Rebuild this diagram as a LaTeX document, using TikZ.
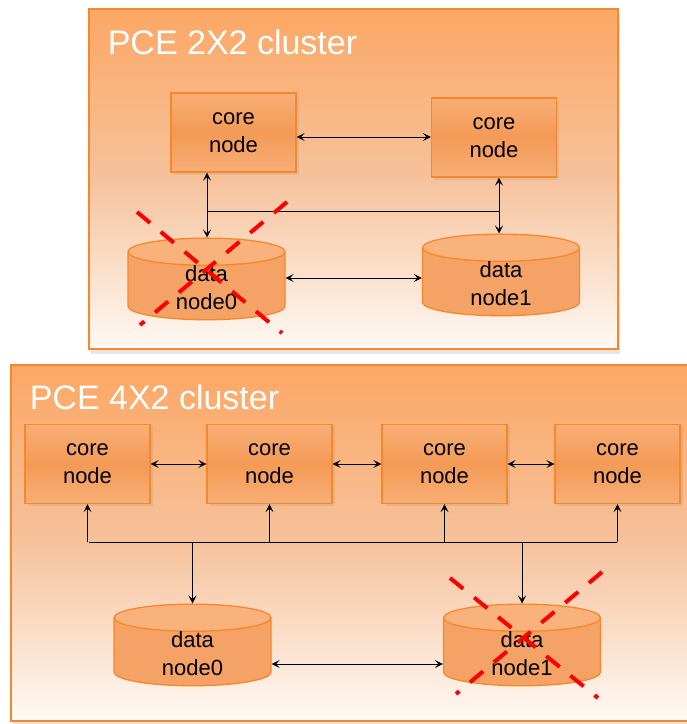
\documentclass[tikz,border=0pt]{standalone}
\usepackage{fontspec}
\setmainfont{Liberation Sans}
\usetikzlibrary{arrows.meta}
\usetikzlibrary{positioning}
\usetikzlibrary{calc}
\usetikzlibrary{shapes.geometric}
\usetikzlibrary{shadows}
\definecolor{clustertop}{HTML}{FCA764}
\definecolor{clustermid}{HTML}{F6C29C}
\definecolor{clusterbot}{HTML}{FEF9F4}
\definecolor{boxline}{HTML}{F8872A}
\definecolor{corefill}{HTML}{F39A56}
\definecolor{coreedge}{HTML}{F8AE76}
\definecolor{databody}{HTML}{F4A266}
\definecolor{dataend}{HTML}{F9B27C}
\tikzstyle{cluster}=[draw=boxline, line width=1.5pt, top color=clustertop, bottom color=clusterbot, middle color=clustermid, drop shadow={opacity=0.2, shadow xshift=2pt, shadow yshift=-5pt}]
\tikzstyle{title}=[text=white, font={\fontsize{34}{40}\selectfont}, anchor=west]
\tikzstyle{core}=[draw=boxline, line width=1.3pt, minimum width=125pt, minimum height=79pt, top color=coreedge, bottom color=coreedge, middle color=corefill, align=center, font={\fontsize{22}{28}\selectfont}, drop shadow={opacity=0.15}]
\tikzstyle{data}=[cylinder, shape border rotate=90, aspect=0.4, draw=boxline, line width=1.3pt, cylinder uses custom fill, cylinder body fill=databody, cylinder end fill=dataend, minimum width=157pt, minimum height=62pt, inner ysep=0pt, align=center, font={\fontsize{22}{28}\selectfont}]
\tikzstyle{cross}=[red, line width=4pt, dash pattern=on 17pt off 14pt]

\begin{document}
\begin{tikzpicture}[x=1pt,y=-1pt,>={Stealth[length=8pt,width=8pt,inset=3.5pt]},line width=0.9pt]
  \useasboundingbox (0,0) rectangle (687,724);
  \clip (0,0) rectangle (687,724);

    % 2x2 cluster
    \node [cluster, minimum width=529pt, minimum height=340pt, anchor=north west] (box1) at (88,8) {};
    \node [title] (t1) at (104,42) {PCE 2X2 cluster};
    \node [core] (c1) at (233.5,132.5) {core\\node};
    \node [core] (c2) at (494,137.5) {core\\node};
    \node [data] (d0) at (206.5,288) {data\\node0};
    \node [data] (d1) at (501,284) {data\\node1};
    \coordinate (j1) at (207,211);
    \coordinate (j2) at (499,211);
    \coordinate (h1) at (0,137);
    \coordinate (h2) at (0,278);

    \draw[<->] (c1.east |- h1) -- (c2.west |- h1);
    \draw[<->] (d0.east |- h2) -- (d1.west |- h2);
    \draw[<->] (j1 |- c1.south) -- (j1 |- d0.north);
    \draw[<->] (j2 |- c2.south) -- (j2 |- d1.north);
    \draw (j1) -- (j2);

    \draw[cross] (137,212) -- (282,333);
    \draw[cross] (287,202) -- (140,325);

    % 4x2 cluster
    \node [cluster, minimum width=690pt, minimum height=356pt, anchor=north west] (box2) at (10,364) {};
    \node [title] (t2) at (26,397) {PCE 4X2 cluster};
    \node [core] (k1) at (87.5,464) {core\\node};
    \node [core] (k2) at (269.5,464) {core\\node};
    \node [core] (k3) at (444.5,464) {core\\node};
    \node [core] (k4) at (617.5,464) {core\\node};
    \node [data, minimum height=80pt] (e0) at (192.5,654) {data\\node0};
    \node [data, minimum height=80pt] (e1) at (522,654) {data\\node1};
    \coordinate (b1) at (89,542);
    \coordinate (b2) at (617,542);
    \coordinate (h3) at (0,664);

    \path[<->] (k1) edge node {} (k2);
    \path[<->] (k2) edge node {} (k3);
    \path[<->] (k3) edge node {} (k4);
    \draw[<->] (e0.east |- h3) -- (e1.west |- h3);
    \draw (b1) -- (b2);
    \foreach \k in {k1,k2,k3,k4}
      \draw[->] (\k.south |- b1) -- (\k.south);
    \draw[->] (e0.north |- b1) -- (e0.north);
    \draw[->] (e1.north |- b1) -- (e1.north);

    \draw[cross] (450,578) -- (598,698);
    \draw[cross] (602,572) -- (456,694);
\end{tikzpicture}
\end{document}
